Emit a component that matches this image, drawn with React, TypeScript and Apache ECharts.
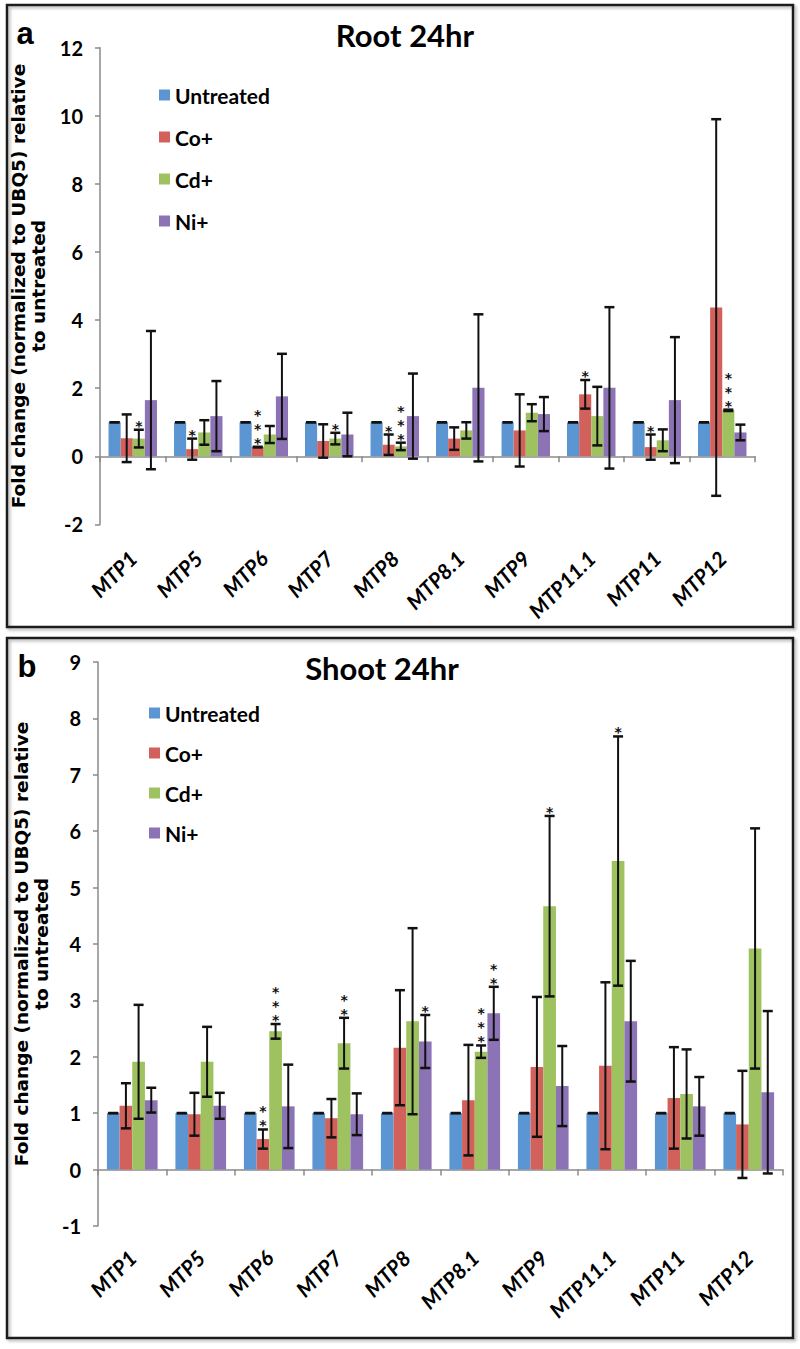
import React, { useEffect, useRef } from 'react';
import * as echarts from 'echarts';

const categories = ['MTP1', 'MTP5', 'MTP6', 'MTP7', 'MTP8', 'MTP8.1', 'MTP9', 'MTP11.1', 'MTP11', 'MTP12'];
const treatments = ['Untreated', 'Co+', 'Cd+', 'Ni+'];
const colors = ['#5B96D2', '#D3615B', '#9DC25F', '#8C73B5'];

// Panel a: Root 24hr
const rootUntreated = [1, 1, 1, 1, 1, 1, 1, 1, 1, 1];
const rootUntreatedErr = [0, 0, 0, 0, 0, 0, 0, 0, 0, 0];
const rootCo = [0.53, 0.21, 0.27, 0.45, 0.34, 0.52, 0.76, 1.82, 0.27, 4.37];
const rootCoErr = [0.7, 0.31, 0.01, 0.49, 0.3, 0.33, 1.06, 0.42, 0.37, 5.53];
const rootCd = [0.52, 0.7, 0.64, 0.52, 0.29, 0.76, 1.28, 1.18, 0.47, 1.35];
const rootCdErr = [0.26, 0.36, 0.25, 0.17, 0.11, 0.24, 0.25, 0.86, 0.32, 0.02];
const rootNi = [1.65, 1.18, 1.76, 0.64, 1.18, 2.01, 1.24, 2.01, 1.65, 0.7];
const rootNiErr = [2.03, 1.03, 1.25, 0.64, 1.25, 2.16, 0.5, 2.37, 1.85, 0.23];
const rootUntreatedStars = [0, 0, 0, 0, 0, 0, 0, 0, 0, 0];
const rootCoStars = [0, 1, 3, 0, 1, 0, 0, 1, 1, 0];
const rootCdStars = [1, 0, 0, 1, 3, 0, 0, 0, 0, 3];
const rootNiStars = [0, 0, 0, 0, 0, 0, 0, 0, 0, 0];

// Panel b: Shoot 24hr
const shootUntreated = [1, 1, 1, 1, 1, 1, 1, 1, 1, 1];
const shootUntreatedErr = [0, 0, 0, 0, 0, 0, 0, 0, 0, 0];
const shootCo = [1.13, 0.98, 0.54, 0.91, 2.16, 1.23, 1.82, 1.84, 1.27, 0.8];
const shootCoErr = [0.4, 0.38, 0.17, 0.34, 1.02, 0.98, 1.24, 1.48, 0.9, 0.95];
const shootCd = [1.91, 1.91, 2.45, 2.24, 2.63, 2.09, 4.67, 5.47, 1.34, 3.92];
const shootCdErr = [1.01, 0.62, 0.13, 0.45, 1.65, 0.11, 1.6, 2.21, 0.79, 2.13];
const shootNi = [1.23, 1.13, 1.12, 0.98, 2.27, 2.77, 1.48, 2.63, 1.12, 1.37];
const shootNiErr = [0.22, 0.23, 0.74, 0.37, 0.47, 0.47, 0.71, 1.07, 0.52, 1.44];
const shootUntreatedStars = [0, 0, 0, 0, 0, 0, 0, 0, 0, 0];
const shootCoStars = [0, 0, 2, 0, 0, 0, 0, 0, 0, 0];
const shootCdStars = [0, 0, 3, 2, 0, 3, 1, 1, 0, 0];
const shootNiStars = [0, 0, 0, 0, 1, 2, 0, 0, 0, 0];

const rootTicks = { min: -2, max: 12, interval: 2 };
const shootTicks = { min: -1, max: 9, interval: 1 };

const GAP = 0.26;
const CAP = 10;
const STAR_SIZE = 14;
const STAR_STEP = 14;
const yName = 'Fold change (normalized to UBQ5) relative\nto untreated';

function renderErr(params: any, api: any) {
  const cat = api.value(0);
  const s = api.value(1);
  const v = api.value(2);
  const e = api.value(3);
  const n = api.value(4);
  const c = api.coord([cat, v]);
  const band = api.size([1, 0])[0];
  const bw = (band * (1 - GAP)) / 4;
  const x = c[0] + (s - 1.5) * bw;
  const yT = api.coord([cat, v + e])[1];
  const yB = api.coord([cat, v - e])[1];
  const children: any[] = [
    { type: 'line', shape: { x1: x, y1: yT, x2: x, y2: yB }, style: { stroke: '#111', lineWidth: 2 } },
    { type: 'line', shape: { x1: x - CAP / 2, y1: yT, x2: x + CAP / 2, y2: yT }, style: { stroke: '#111', lineWidth: 2.5 } },
    { type: 'line', shape: { x1: x - CAP / 2, y1: yB, x2: x + CAP / 2, y2: yB }, style: { stroke: '#111', lineWidth: 2.5 } },
  ];
  for (let i = 0; i < n; i++) {
    children.push({
      type: 'text',
      x: x,
      y: yT - 4 - i * STAR_STEP,
      style: {
        text: '*',
        font: 'bold ' + STAR_SIZE + 'px "DejaVu Sans"',
        fill: '#111',
        align: 'center',
        verticalAlign: 'middle',
      },
    });
  }
  return { type: 'group', children };
}

function buildErrData(vals: number[][], errs: number[][], stars: number[][]) {
  const out: number[][] = [];
  for (let s = 0; s < vals.length; s++) {
    for (let i = 0; i < categories.length; i++) {
      out.push([i, s, vals[s][i], errs[s][i], stars[s][i]]);
    }
  }
  return out;
}

function buildOption() {
  const rootVals = [rootUntreated, rootCo, rootCd, rootNi];
  const rootErrs = [rootUntreatedErr, rootCoErr, rootCdErr, rootNiErr];
  const rootStars = [rootUntreatedStars, rootCoStars, rootCdStars, rootNiStars];
  const shootVals = [shootUntreated, shootCo, shootCd, shootNi];
  const shootErrs = [shootUntreatedErr, shootCoErr, shootCdErr, shootNiErr];
  const shootStars = [shootUntreatedStars, shootCoStars, shootCdStars, shootNiStars];

  const axisGray = '#8a8a8a';
  const labelFont = { fontFamily: 'Lato', fontWeight: 'bold' as const, color: '#000' };

  const xAxes: any[] = [];
  const yAxes: any[] = [];
  [0, 1].forEach((g) => {
    xAxes.push({
      gridIndex: g,
      type: 'category',
      data: categories,
      axisLine: { onZero: true, lineStyle: { color: axisGray, width: 1.5 } },
      axisTick: { show: true, length: 6, lineStyle: { color: axisGray, width: 1.5 } },
      axisLabel: { show: false },
      splitLine: { show: false },
    });
    xAxes.push({
      gridIndex: g,
      type: 'category',
      data: categories,
      position: 'bottom',
      axisLine: { show: false, onZero: false },
      axisTick: { show: false },
      axisLabel: { interval: 0, rotate: 45, margin: g === 0 ? 30 : 28, fontSize: 21, fontStyle: 'italic', ...labelFont },
      splitLine: { show: false },
    });
    const t = g === 0 ? rootTicks : shootTicks;
    yAxes.push({
      gridIndex: g,
      type: 'value',
      min: t.min,
      max: t.max,
      interval: t.interval,
      axisLine: { show: true, lineStyle: { color: axisGray, width: 1.5 } },
      axisTick: { show: true, length: 5, lineStyle: { color: axisGray, width: 1.5 } },
      splitLine: { show: false },
      axisLabel: { fontSize: 20, margin: 17, ...labelFont },
      name: yName,
      nameLocation: 'middle',
      nameRotate: 90,
      nameGap: g === 0 ? 43 : 41,
      nameTextStyle: { fontFamily: 'DejaVu Sans', fontWeight: 'bold', fontSize: 18.5, lineHeight: 20, color: '#000', align: 'center' },
    });
  });

  const series: any[] = [];
  [0, 1].forEach((g) => {
    const vals = g === 0 ? rootVals : shootVals;
    treatments.forEach((name, s) => {
      series.push({
        type: 'bar',
        name,
        xAxisIndex: g * 2,
        yAxisIndex: g,
        data: vals[s],
        barGap: '0%',
        barCategoryGap: GAP * 100 + '%',
        itemStyle: { color: colors[s] },
        emphasis: { disabled: true },
      });
    });
    series.push({
      type: 'custom',
      name: g === 0 ? 'rootErr' : 'shootErr',
      xAxisIndex: g * 2,
      yAxisIndex: g,
      z: 5,
      clip: false,
      renderItem: renderErr,
      encode: { x: 0, y: 2 },
      data: g === 0 ? buildErrData(rootVals, rootErrs, rootStars) : buildErrData(shootVals, shootErrs, shootStars),
    });
  });

  const legendBase = {
    orient: 'vertical',
    icon: 'rect',
    itemWidth: 11,
    itemHeight: 11,
    selectedMode: false,
    data: treatments,
    textStyle: { fontSize: 21, lineHeight: 22, ...labelFont },
  };

  return {
    animation: false,
    backgroundColor: '#fff',
    grid: [
      { left: 100, top: 47.7, width: 655, height: 476.7 },
      { left: 98, top: 662, width: 685, height: 563.9 },
    ],
    xAxis: xAxes,
    yAxis: yAxes,
    legend: [
      { ...legendBase, left: 154, top: 79, itemGap: 20 },
      { ...legendBase, left: 144, top: 697, itemGap: 18 },
    ],
    graphic: [
      { type: 'rect', shape: { x: 7, y: 5, width: 786, height: 622 }, style: { fill: 'none', stroke: '#1a1a1a', lineWidth: 2.5, shadowBlur: 3, shadowColor: 'rgba(0,0,0,0.3)', shadowOffsetX: 2, shadowOffsetY: 2 }, silent: true },
      { type: 'rect', shape: { x: 7, y: 638, width: 786, height: 700 }, style: { fill: 'none', stroke: '#1a1a1a', lineWidth: 2.5, shadowBlur: 3, shadowColor: 'rgba(0,0,0,0.3)', shadowOffsetX: 2, shadowOffsetY: 2 }, silent: true },
      { type: 'text', x: 25, y: 33, style: { text: 'a', font: 'bold 31px "Liberation Sans"', fill: '#000', align: 'center', verticalAlign: 'middle' } },
      { type: 'text', x: 27, y: 666, style: { text: 'b', font: 'bold 31px "Liberation Sans"', fill: '#000', align: 'center', verticalAlign: 'middle' } },
      { type: 'text', x: 405, y: 35, style: { text: 'Root 24hr', font: 'bold 31px Lato', fill: '#000', align: 'center', verticalAlign: 'middle' } },
      { type: 'text', x: 382, y: 668, style: { text: 'Shoot 24hr', font: 'bold 31px Lato', fill: '#000', align: 'center', verticalAlign: 'middle' } },
    ],
    series,
  };
}

export default function App() {
  const ref = useRef<HTMLDivElement>(null);
  useEffect(() => {
    document.body.style.margin = '0';
    const chart = echarts.init(ref.current as HTMLDivElement, null, { renderer: 'svg' });
    chart.setOption(buildOption() as any);
    return () => chart.dispose();
  }, []);
  return <div ref={ref} style={{ position: 'absolute', left: 0, top: 0, width: 800, height: 1349, background: '#fff' }} />;
}
